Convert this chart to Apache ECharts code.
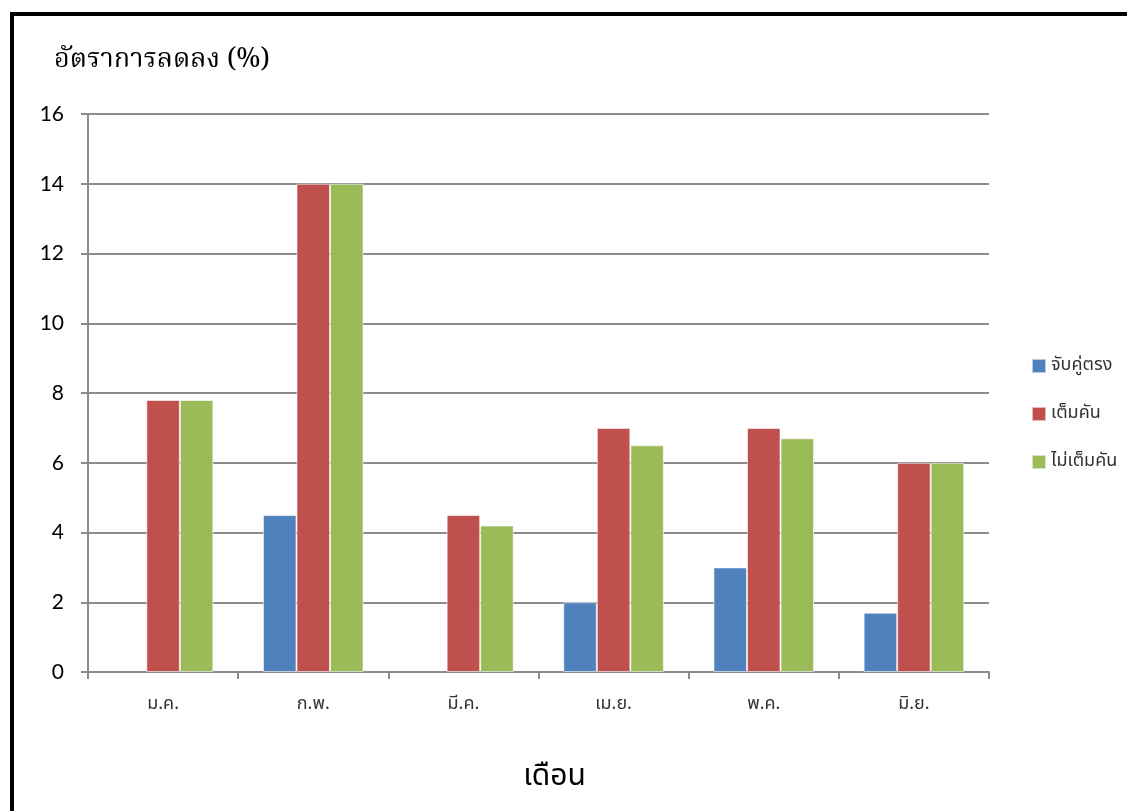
<!DOCTYPE html>
<html>
<head>
<meta charset="utf-8">
<script src="https://cdn.jsdelivr.net/npm/echarts@6/dist/echarts.min.js"></script>
<style>
  html, body { margin: 0; padding: 0; background: #fff; overflow: hidden; }
  #frame { position: absolute; left: 10px; top: 12px; width: 1140px; height: 820px;
           border: 4px solid #000; box-sizing: border-box; }
  #chart { position: absolute; left: 0; top: 0; width: 1127px; height: 811px; }
</style>
</head>
<body>
<div id="frame"></div>
<div id="chart"></div>
<script>
// Months (Jan–Jun) and reduction rates per method
const months = ['ม.ค.', 'ก.พ.', 'มี.ค.', 'เม.ย.', 'พ.ค.', 'มิ.ย.'];
const matchPairs = [0, 4.5, 0, 2.0, 3.0, 1.7];      // จับคู่ตรง
const fullLoad = [7.8, 14, 4.5, 7.0, 7.0, 6.0];     // เต็มคัน
const partialLoad = [7.8, 14, 4.2, 6.5, 6.7, 6.0];  // ไม่เต็มคัน
const yTicks = [0, 2, 4, 6, 8, 10, 12, 14, 16];

const seriesNames = ['จับคู่ตรง', 'เต็มคัน', 'ไม่เต็มคัน'];
const seriesColors = ['#4F81BD', '#C0504D', '#9BBB59'];
const seriesData = [matchPairs, fullLoad, partialLoad];

const titleFont = '"Noto Serif Thai", "Noto Sans Thai", serif';
const thaiFont = '"Noto Sans Thai", "Noto Sans", sans-serif';
const numFont = 'Lato, "Open Sans", sans-serif';

const chart = echarts.init(document.getElementById('chart'));
chart.setOption({
  animation: false,
  grid: { left: 88, right: 138, top: 114, bottom: 139, containLabel: false },
  legend: {
    orient: 'vertical',
    left: 1026,
    top: 352,
    itemWidth: 14,
    itemHeight: 14,
    itemGap: 30,
    icon: 'rect',
    textStyle: { fontFamily: thaiFont, fontSize: 18, color: '#333' },
    data: seriesNames
  },
  xAxis: {
    type: 'category',
    data: months,
    name: 'เดือน',
    nameLocation: 'middle',
    nameGap: 92,
    nameTextStyle: { fontFamily: thaiFont, fontSize: 30, color: '#000', padding: [0, 0, 0, 32] },
    axisLine: { lineStyle: { color: '#8c8c8c', width: 2 } },
    axisTick: { show: true, length: 7, alignWithLabel: false, lineStyle: { color: '#8c8c8c', width: 2 } },
    axisLabel: { margin: 24, fontFamily: thaiFont, fontSize: 18, color: '#333' }
  },
  yAxis: {
    type: 'value',
    min: yTicks[0],
    max: yTicks[yTicks.length - 1],
    interval: 2,
    name: 'อัตราการลดลง (%)',
    nameLocation: 'end',
    nameGap: 38,
    nameTextStyle: { fontFamily: titleFont, fontSize: 27, color: '#000', align: 'left', padding: [0, 0, 0, -34] },
    axisLine: { show: true, lineStyle: { color: '#8c8c8c', width: 2 } },
    axisTick: { show: true, length: 7, lineStyle: { color: '#8c8c8c', width: 2 } },
    axisLabel: { margin: 24, fontFamily: numFont, fontSize: 21, color: '#000' },
    splitLine: { lineStyle: { color: '#8c8c8c', width: 2 } }
  },
  series: seriesNames.map((name, i) => ({
    name: name,
    type: 'bar',
    // zero-height bars get no outline so nothing is drawn for them
    data: seriesData[i].map(v => v === 0
      ? { value: v, itemStyle: { borderWidth: 0 } }
      : v),
    barGap: '0%',
    barCategoryGap: '33%',
    itemStyle: { color: seriesColors[i], borderColor: 'rgba(255,255,255,0.6)', borderWidth: 1 }
  }))
});
</script>
</body>
</html>
